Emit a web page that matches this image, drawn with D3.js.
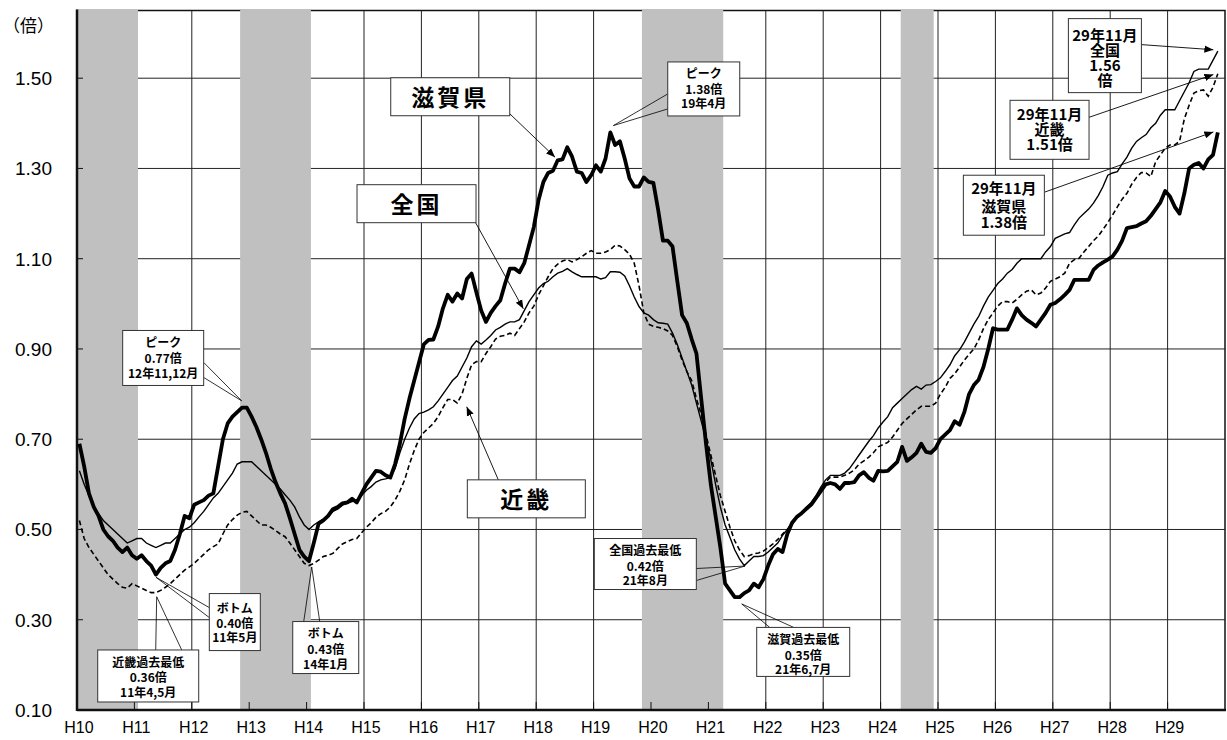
<!DOCTYPE html>
<html>
<head>
<meta charset="utf-8">
<script src="https://cdn.jsdelivr.net/npm/d3@7/dist/d3.min.js"></script>
<style>
  body { margin: 0; background: #fff; }
  svg text { font-family: "Liberation Sans", Arial, sans-serif; }
  .note { font-family: "Noto Sans CJK JP", sans-serif; font-weight: bold; }
</style>
</head>
<body>
<div id="chart"></div>
<script>
// Year labels (monthly data starts at H10 Jan)
var years = ['H10','H11','H12','H13','H14','H15','H16','H17','H18','H19',
             'H20','H21','H22','H23','H24','H25','H26','H27','H28','H29'];
var yTicks = [0.10, 0.30, 0.50, 0.70, 0.90, 1.10, 1.30, 1.50];

// Recession periods, in months from H10 Jan
var recessions = [[0, 12.75], [34.1, 48.9], [118.1, 135.1], [172.2, 179.1]];

// 滋賀県 (monthly, H10.1 - H29.11)
var shiga = [
  0.69,0.64,0.58,0.55,0.53,0.50,0.485,0.475,0.46,0.45,0.46,0.443,
  0.435,0.443,0.43,0.42,0.40,0.415,0.425,0.43,0.455,0.49,0.53,0.525,
  0.555,0.56,0.565,0.575,0.58,0.64,0.70,0.735,0.75,0.76,0.77,0.77,
  0.75,0.727,0.70,0.67,0.635,0.605,0.58,0.558,0.525,0.49,0.455,0.44,
  0.43,0.47,0.513,0.52,0.53,0.545,0.55,0.558,0.56,0.568,0.56,0.58,
  0.60,0.615,0.63,0.628,0.62,0.615,0.645,0.69,0.745,0.79,0.83,0.87,
  0.91,0.92,0.921,0.95,0.99,1.02,1.005,1.023,1.012,1.055,1.067,1.025,
  0.985,0.96,0.98,0.995,1.008,1.045,1.078,1.078,1.07,1.09,1.13,1.17,
  1.23,1.27,1.29,1.295,1.318,1.32,1.347,1.326,1.293,1.29,1.27,1.285,
  1.307,1.293,1.322,1.38,1.352,1.36,1.322,1.278,1.26,1.26,1.28,1.27,
  1.268,1.208,1.14,1.14,1.127,1.05,0.975,0.957,0.922,0.89,0.79,0.69,
  0.60,0.53,0.46,0.38,0.365,0.35,0.35,0.359,0.365,0.38,0.372,0.39,
  0.42,0.445,0.457,0.45,0.49,0.515,0.528,0.536,0.546,0.555,0.57,0.585,
  0.60,0.603,0.60,0.59,0.603,0.603,0.605,0.62,0.627,0.615,0.608,0.63,
  0.629,0.63,0.64,0.65,0.683,0.652,0.66,0.67,0.69,0.672,0.67,0.68,
  0.70,0.71,0.72,0.74,0.732,0.76,0.80,0.82,0.832,0.86,0.90,0.946,
  0.943,0.943,0.943,0.965,0.99,0.975,0.965,0.958,0.95,0.965,0.98,0.998,
  1.002,1.01,1.02,1.031,1.053,1.053,1.053,1.053,1.075,1.085,1.092,1.098,
  1.105,1.12,1.14,1.168,1.17,1.172,1.178,1.183,1.195,1.21,1.225,1.25,
  1.238,1.215,1.20,1.245,1.30,1.308,1.312,1.30,1.32,1.33,1.38
];

// 全国
var zenkoku = [
  0.63,0.60,0.575,0.55,0.535,0.52,0.51,0.50,0.49,0.48,0.47,0.475,
  0.48,0.48,0.47,0.465,0.46,0.465,0.47,0.47,0.48,0.49,0.50,0.505,
  0.515,0.528,0.54,0.555,0.57,0.58,0.595,0.61,0.625,0.645,0.65,0.65,
  0.65,0.64,0.63,0.62,0.61,0.60,0.59,0.577,0.565,0.55,0.528,0.51,
  0.50,0.51,0.517,0.523,0.53,0.54,0.545,0.554,0.558,0.562,0.565,0.575,
  0.587,0.595,0.605,0.61,0.612,0.615,0.635,0.67,0.70,0.725,0.745,0.757,
  0.76,0.765,0.772,0.785,0.80,0.815,0.83,0.84,0.86,0.88,0.905,0.918,
  0.911,0.92,0.93,0.942,0.948,0.955,0.96,0.96,0.965,0.985,1.005,1.02,
  1.035,1.045,1.05,1.06,1.068,1.072,1.078,1.071,1.065,1.06,1.06,1.06,
  1.06,1.055,1.058,1.071,1.071,1.07,1.062,1.04,1.015,0.994,0.98,0.975,
  0.965,0.958,0.957,0.955,0.935,0.91,0.88,0.85,0.82,0.78,0.74,0.70,
  0.655,0.60,0.55,0.51,0.483,0.455,0.435,0.42,0.43,0.44,0.44,0.442,
  0.45,0.46,0.47,0.487,0.50,0.515,0.528,0.538,0.55,0.56,0.575,0.594,
  0.61,0.62,0.62,0.62,0.625,0.635,0.65,0.665,0.68,0.695,0.708,0.725,
  0.738,0.75,0.77,0.78,0.79,0.80,0.81,0.817,0.811,0.82,0.821,0.828,
  0.836,0.85,0.865,0.885,0.898,0.915,0.935,0.955,0.972,0.995,1.015,1.03,
  1.045,1.055,1.068,1.076,1.09,1.10,1.10,1.10,1.10,1.10,1.115,1.127,
  1.145,1.15,1.155,1.158,1.175,1.19,1.20,1.21,1.223,1.24,1.26,1.285,
  1.29,1.293,1.31,1.325,1.345,1.36,1.368,1.375,1.39,1.40,1.418,1.43,
  1.43,1.43,1.45,1.47,1.49,1.515,1.52,1.52,1.52,1.54,1.56
];

// 近畿
var kinki = [
  0.52,0.48,0.46,0.445,0.43,0.415,0.40,0.39,0.38,0.372,0.37,0.38,
  0.375,0.37,0.365,0.36,0.36,0.365,0.372,0.38,0.39,0.40,0.41,0.417,
  0.425,0.435,0.445,0.455,0.462,0.468,0.49,0.51,0.522,0.532,0.538,0.54,
  0.53,0.52,0.51,0.51,0.505,0.498,0.49,0.484,0.47,0.455,0.44,0.425,
  0.42,0.425,0.432,0.44,0.443,0.447,0.458,0.468,0.473,0.478,0.48,0.493,
  0.505,0.515,0.527,0.535,0.54,0.55,0.565,0.585,0.61,0.645,0.675,0.70,
  0.715,0.725,0.735,0.75,0.77,0.788,0.788,0.78,0.80,0.835,0.865,0.872,
  0.872,0.89,0.905,0.922,0.928,0.93,0.935,0.93,0.945,0.96,0.98,0.995,
  1.02,1.04,1.06,1.078,1.088,1.095,1.098,1.093,1.098,1.104,1.112,1.118,
  1.112,1.112,1.115,1.12,1.13,1.128,1.12,1.11,1.09,1.04,0.98,0.955,
  0.95,0.948,0.945,0.94,0.93,0.905,0.875,0.85,0.83,0.79,0.755,0.71,
  0.665,0.62,0.575,0.54,0.505,0.475,0.455,0.44,0.442,0.446,0.448,0.452,
  0.46,0.468,0.478,0.49,0.50,0.513,0.525,0.535,0.545,0.557,0.57,0.586,
  0.605,0.616,0.616,0.616,0.62,0.625,0.632,0.645,0.652,0.66,0.67,0.683,
  0.688,0.693,0.705,0.72,0.735,0.745,0.755,0.765,0.773,0.773,0.773,0.78,
  0.80,0.815,0.835,0.845,0.86,0.875,0.888,0.90,0.92,0.945,0.965,0.98,
  0.995,1.005,1.005,1.002,1.01,1.02,1.028,1.031,1.02,1.024,1.035,1.05,
  1.055,1.06,1.068,1.09,1.098,1.101,1.115,1.127,1.14,1.15,1.165,1.18,
  1.197,1.215,1.232,1.245,1.265,1.28,1.291,1.29,1.282,1.315,1.33,1.345,
  1.352,1.352,1.36,1.41,1.44,1.467,1.472,1.474,1.46,1.48,1.51
];

// Callout texts
var noteTexts = [
  ['滋賀県'], ['全国'], ['近畿'],
  ['ピーク', '0.77倍', '12年11,12月'],
  ['ボトム', '0.40倍', '11年5月'],
  ['近畿過去最低', '0.36倍', '11年4,5月'],
  ['ボトム', '0.43倍', '14年1月'],
  ['ピーク', '1.38倍', '19年4月'],
  ['全国過去最低', '0.42倍', '21年8月'],
  ['滋賀過去最低', '0.35倍', '21年6,7月'],
  ['29年11月', '全国', '1.56', '倍'],
  ['29年11月', '近畿', '1.51倍'],
  ['29年11月', '滋賀県', '1.38倍']
];

var width = 1227, height = 740;
var plotL = 77, plotR = 1225, plotT = 10.5, plotB = 710;

var svg = d3.select('#chart').append('svg')
    .attr('width', width).attr('height', height);

// t = months from H10 Jan; month i is drawn at t = i + 0.5
var x = d3.scaleLinear().domain([0, 240]).range([plotL, plotR]);
var y = d3.scaleLinear().domain([0.1, 1.65]).range([plotB, plotT]);

//Frame and grid
svg.append('rect').attr('x', plotL).attr('y', plotT)
    .attr('width', plotR - plotL).attr('height', plotB - plotT)
    .attr('fill', 'none').attr('stroke', '#111').attr('stroke-width', 1.5);

var grid = svg.append('g').attr('stroke', '#222').attr('stroke-width', 1);
grid.selectAll('line.h').data(yTicks.slice(1)).enter().append('line')
    .attr('x1', plotL).attr('x2', plotR)
    .attr('y1', function(d) { return y(d); }).attr('y2', function(d) { return y(d); });
grid.selectAll('line.v').data(years.slice(1)).enter().append('line')
    .attr('x1', function(d, i) { return x((i + 1) * 12); })
    .attr('x2', function(d, i) { return x((i + 1) * 12); })
    .attr('y1', plotT).attr('y2', plotB);

//Recession bands (drawn over the grid)
svg.selectAll('rect.band').data(recessions).enter().append('rect')
    .attr('x', function(d) { return x(d[0]); })
    .attr('width', function(d) { return x(d[1]) - x(d[0]); })
    .attr('y', plotT - 1).attr('height', plotB - plotT + 1)
    .attr('fill', '#c0c0c0');

//Axes
svg.append('line').attr('x1', plotL).attr('x2', plotL).attr('y1', plotT - 1).attr('y2', plotB + 1)
    .attr('stroke', '#111').attr('stroke-width', 2.5);
svg.append('line').attr('x1', plotL).attr('x2', plotR + 1).attr('y1', plotB).attr('y2', plotB)
    .attr('stroke', '#111').attr('stroke-width', 2.5);

svg.selectAll('line.xt').data(years).enter().append('line')
    .attr('x1', function(d, i) { return x(i * 12); })
    .attr('x2', function(d, i) { return x(i * 12); })
    .attr('y1', plotB).attr('y2', plotB - 8)
    .attr('stroke', '#111').attr('stroke-width', 1);
svg.selectAll('line.yt').data(yTicks).enter().append('line')
    .attr('x1', plotL).attr('x2', plotL + 6)
    .attr('y1', function(d) { return y(d); }).attr('y2', function(d) { return y(d); })
    .attr('stroke', '#111').attr('stroke-width', 1);

svg.selectAll('text.xl').data(years).enter().append('text')
    .attr('x', function(d, i) { return x(i * 12) + 2; })
    .attr('y', 733)
    .attr('text-anchor', 'middle')
    .attr('font-size', 16)
    .text(function(d) { return d; });

svg.selectAll('text.yl').data(yTicks).enter().append('text')
    .attr('x', 52)
    .attr('y', function(d) { return y(d) + 7; })
    .attr('text-anchor', 'end')
    .attr('font-size', 19)
    .text(function(d) { return d.toFixed(2); });

svg.append('text').attr('class', 'note').attr('x', 3).attr('y', 32)
    .attr('font-size', 17).style('font-weight', 'normal').text('（倍）');

//Series lines
var line = d3.line()
    .x(function(d, i) { return x(i + 0.5); })
    .y(function(d) { return y(d); });

svg.append('path').datum(kinki).attr('d', line)
    .attr('fill', 'none').attr('stroke', '#000').attr('stroke-width', 1.6)
    .attr('stroke-dasharray', '5,3');
svg.append('path').datum(zenkoku).attr('d', line)
    .attr('fill', 'none').attr('stroke', '#000').attr('stroke-width', 1.4);
svg.append('path').datum(shiga).attr('d', line)
    .attr('fill', 'none').attr('stroke', '#000').attr('stroke-width', 3.8)
    .attr('stroke-linejoin', 'round');

//Callouts: box corner and pointer tip are in chart units (t, value)
var defs = svg.append('defs');
defs.append('marker').attr('id', 'arr')
    .attr('viewBox', '0 0 10 10').attr('refX', 10).attr('refY', 5)
    .attr('markerWidth', 9).attr('markerHeight', 9).attr('orient', 'auto')
    .attr('markerUnits', 'userSpaceOnUse')
    .append('path').attr('d', 'M0,1 L10,5 L0,9 z').attr('fill', '#000');

var notes = [
  {box: [65.59, 1.501], w: 119, h: 38, size: 23, dy: [20], arrow: [119, 36], tip: [99.94, 1.325]},
  {box: [58.54, 1.264], w: 119, h: 38, size: 23, dy: [20], arrow: [118, 37], tip: [93.31, 0.989]},
  {box: [81.6, 0.61], w: 118, h: 38, size: 23, dy: [20], arrow: [31, 0], tip: [81.47, 0.772]},
  {box: [9.55, 0.941], w: 81, h: 55, size: 12, dy: [12, 28, 43], tail: ['right', 32, 47], tip: [34.43, 0.785]},
  {box: [27.66, 0.358], w: 51, h: 57, size: 12, dy: [15, 30, 44], tail: ['left', 14, 24], tip: [16.52, 0.394]},
  {box: [4.33, 0.233], w: 101, h: 52, size: 12, dy: [13, 28, 43], tail: ['top', 58, 84], tip: [16.66, 0.351]},
  {box: [45.1, 0.296], w: 66, h: 52, size: 12, dy: [12, 28, 43], tail: ['top', 11, 27], tip: [49.07, 0.417]},
  {box: [123.5, 1.536], w: 72, h: 54, size: 12, dy: [12, 28, 42], tail: ['left', 32, 47], tip: [112.13, 1.395]},
  {box: [108.15, 0.48], w: 102, h: 51, size: 12, dy: [12, 28, 42], tail: ['right', 30, 42], tip: [139.66, 0.419]},
  {box: [142.1, 0.283], w: 93, h: 49, size: 12, dy: [12, 28, 42], tail: ['top', 13, 37], tip: [138.97, 0.335]},
  {box: [207.26, 1.632], w: 73, h: 74, size: 15, dy: [17, 32, 47, 62], arrow: [73, 26], tip: [237.57, 1.563]},
  {box: [195.06, 1.451], w: 79, h: 59, size: 15, dy: [14, 29, 44], arrow: [79, 17], tip: [237.57, 1.508]},
  {box: [185.3, 1.285], w: 81, h: 60, size: 15, dy: [13, 31, 47], arrow: [81, 17], tip: [237.57, 1.381]}
];

notes.forEach(function(n, k) {
    var bx = x(n.box[0]), by = y(n.box[1]);
    var tx = x(n.tip[0]), ty = y(n.tip[1]);
    var g = svg.append('g');

    if (n.arrow) {
        g.append('line')
            .attr('x1', bx + n.arrow[0]).attr('y1', by + n.arrow[1])
            .attr('x2', tx).attr('y2', ty)
            .attr('stroke', '#000').attr('stroke-width', 0.9)
            .attr('marker-end', 'url(#arr)');
    }
    if (n.tail) {
        var p1, p2;
        if (n.tail[0] == 'right') { p1 = [bx + n.w, by + n.tail[1]]; p2 = [bx + n.w, by + n.tail[2]]; }
        else if (n.tail[0] == 'left') { p1 = [bx, by + n.tail[1]]; p2 = [bx, by + n.tail[2]]; }
        else { p1 = [bx + n.tail[1], by]; p2 = [bx + n.tail[2], by]; }
        g.append('path')
            .attr('d', 'M' + p1 + 'L' + tx + ',' + ty + 'L' + p2)
            .attr('fill', 'none').attr('stroke', '#000').attr('stroke-width', 0.8);
    }

    g.append('rect').attr('x', bx).attr('y', by).attr('width', n.w).attr('height', n.h)
        .attr('fill', '#fff').attr('stroke', '#333').attr('stroke-width', 1);

    // one text block per box, one tspan per line
    var txt = g.append('text').attr('class', 'note')
        .attr('text-anchor', 'middle')
        .attr('font-size', n.size)
        .attr('letter-spacing', n.size > 20 ? 3 : 0);
    noteTexts[k].forEach(function(t, j) {
        txt.append('tspan')
            .attr('x', bx + n.w / 2).attr('y', by + n.dy[j] + n.size * 0.36)
            .text(t);
    });
});
</script>
</body>
</html>
